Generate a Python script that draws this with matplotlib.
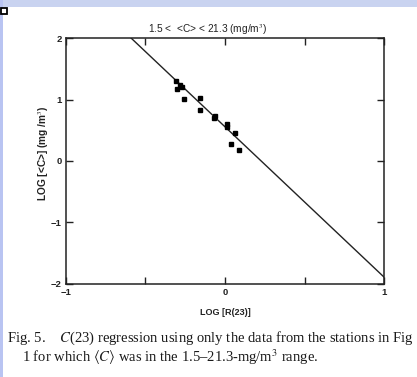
import matplotlib
matplotlib.use('Agg')
import matplotlib.pyplot as plt
from matplotlib.patches import Rectangle

plt.rcParams['mathtext.fontset'] = 'stix'

# data
log_r23 = [-0.31, -0.28, -0.30, -0.27, -0.26, -0.16, -0.16, -0.06, -0.07,
           0.01, 0.01, 0.06, 0.04, 0.09]
log_c = [1.30, 1.24, 1.17, 1.20, 1.01, 1.03, 0.83, 0.73, 0.70,
         0.60, 0.55, 0.46, 0.28, 0.18]
fit_x = [-0.59, 1.0]
fit_y = [2.0, -1.89]

xticks = [-1, -0.5, 0, 0.5, 1]
xticklabels = ['\u22121', '', '0', '', '1']
yticks = [-2, -1, 0, 1, 2]
yticklabels = ['\u22122', '\u22121', '0', '1', '2']

title = '1.5 <  <C> < 21.3 (mg/m$^3$)'
ylabel = 'LOG [<C>] (mg /m$^3$)'
xlabel = 'LOG [R(23)]'
caption1 = 'Fig. 5.    $C$(23) regression using only the data from the stations in Fig'
caption2 = '1 for which $\\langle C\\rangle$ was in the 1.5\u201321.3-mg/m$^3$ range.'

ink = '#222222'

fig = plt.figure(figsize=(4.17, 3.77), dpi=100)
fig.patch.set_facecolor('white')

# scan artefacts: tinted strips on the left and top edges, small box
fig.patches.append(Rectangle((0, 0.982), 1, 0.018, transform=fig.transFigure,
                             facecolor='#c9d3f0', edgecolor='none'))
fig.patches.append(Rectangle((0, 0), 0.008, 1, transform=fig.transFigure,
                             facecolor='#b9c4f2', edgecolor='none'))
fig.patches.append(Rectangle((0.002, 0.962), 0.014, 0.016, transform=fig.transFigure,
                             facecolor='white', edgecolor='black', linewidth=1.3))

ax = fig.add_axes([0.158, 0.247, 0.763, 0.652])
ax.plot(fit_x, fit_y, color=ink, linewidth=1.0)
ax.plot(log_r23, log_c, 's', color='black', markersize=3.5)

ax.set_xlim(-1, 1)
ax.set_ylim(-2, 2)
ax.set_xticks(xticks)
ax.set_xticklabels(xticklabels)
ax.set_yticks(yticks)
ax.set_yticklabels(yticklabels)
ax.tick_params(direction='in', length=5, width=1.0, top=True, right=True,
               labelsize=6.8, colors=ink, pad=3)
for lab in ax.get_xticklabels() + ax.get_yticklabels():
    lab.set_fontweight('bold')
    lab.set_family('Liberation Sans')
for s in ax.spines.values():
    s.set_linewidth(1.1)
    s.set_color(ink)

fig.text(0.499, 0.922, title, fontsize=7.3, family='Liberation Sans',
         color=ink, ha='center', va='center')
ax.set_xlabel(xlabel, fontsize=6.5, family='Liberation Sans',
              fontweight='bold', color=ink, labelpad=8)
ax.set_ylabel(ylabel, fontsize=7.3, family='Liberation Sans',
              fontweight='bold', color=ink, labelpad=3)
ax.yaxis.set_label_coords(-0.048, 0.53)

fig.text(0.017, 0.103, caption1, fontsize=10.5, family='Liberation Serif',
         color='#1a1a1a', va='center')
fig.text(0.053, 0.053, caption2, fontsize=10.5, family='Liberation Serif',
         color='#1a1a1a', va='center')

plt.savefig('out.png', dpi=100)
